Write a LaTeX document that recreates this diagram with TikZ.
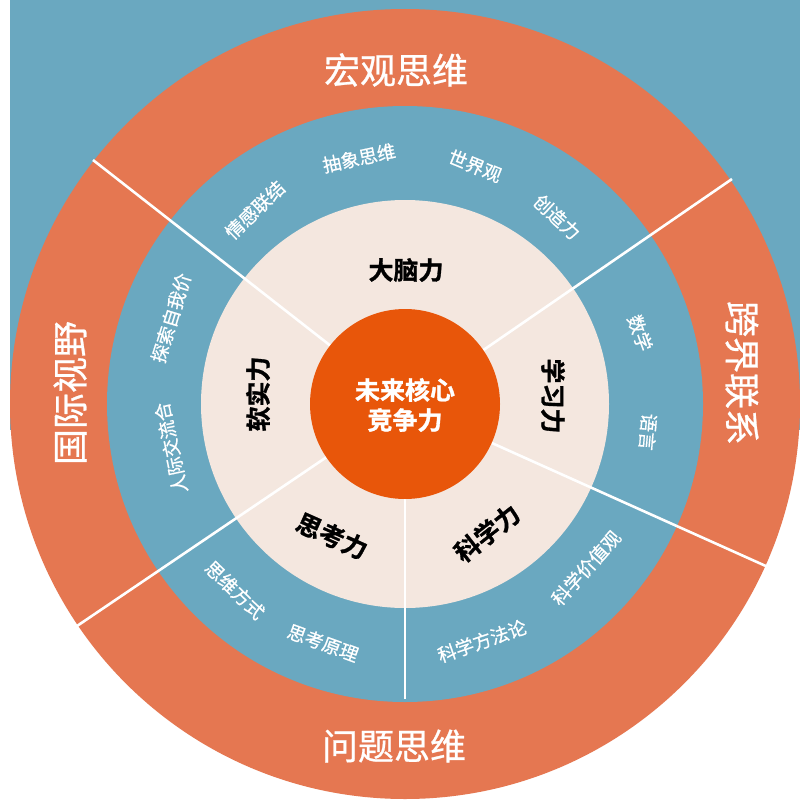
\documentclass[tikz,border=0pt]{standalone}
\usepackage{fontspec}
\setmainfont{Noto Sans CJK SC}[BoldFont={Noto Sans CJK SC Bold}]
\newfontfamily\medfont{Noto Sans CJK SC}[FakeBold=0.7]
\newfontfamily\heavyfont{Noto Sans CJK SC Bold}[FakeBold=1.2]
\definecolor{bgblue}{HTML}{6AA8C0}
\definecolor{ringorange}{HTML}{E57751}
\definecolor{coreorange}{HTML}{E8560A}
\definecolor{beige}{HTML}{F4E7DF}
\tikzset{
  outertext/.style={text=white, inner sep=0pt, font=\medfont\fontsize{36}{40}\selectfont},
  powertext/.style={text=black, inner sep=0pt, font=\heavyfont\fontsize{25}{28}\selectfont},
  skilltext/.style={text=white, inner sep=0pt, font=\medfont\fontsize{18.5}{20}\selectfont},
  coretext/.style={text=white, inner sep=0pt, align=center, font=\heavyfont\fontsize{25}{30}\selectfont},
  divider/.style={draw=white, line width=2.6pt}
}
\begin{document}
\begin{tikzpicture}[x=1pt,y=-1pt]
\useasboundingbox (0,0) rectangle (800,800);
\fill[white] (0,0) rectangle (800,800);
\fill[bgblue] (10,0) rectangle (800,430);
\coordinate (c) at (405,404);
% rings
\fill[ringorange] (c) circle (395pt);
\fill[bgblue] (c) circle (298pt);
\fill[beige] (c) circle (204pt);
% dividers
\coordinate (ul) at (93,160);
\coordinate (ur) at (732,179);
\coordinate (lr) at (768,567);
\coordinate (ll) at (77,626);
\coordinate (bt) at (405,699);
\draw[divider] (c) -- (ul);
\draw[divider] (c) -- (ur);
\draw[divider] (c) -- (lr);
\draw[divider] (c) -- (ll);
\draw[divider] (c) -- (bt);
% core
\fill[coreorange] (c) circle (95pt);
\node[coretext] (core) at (405,405) {未来核心\\竞争力};
% outer ring
\node[outertext] (o1) at (396,70) {宏观思维};
\node[outertext, rotate=-90] (o2) at (742,373) {跨界联系};
\node[outertext] (o3) at (394,746) {问题思维};
\node[outertext, rotate=90] (o4) at (70,393) {国际视野};
% beige ring
\node[powertext] (p1) at (406,270) {大脑力};
\node[powertext, rotate=-90] (p2) at (553,396) {学习力};
\node[powertext, rotate=90] (p3) at (258,394) {软实力};
\node[powertext, rotate=-24] (p4) at (332,536) {思考力};
\node[powertext, rotate=38] (p5) at (487,533) {科学力};
% blue ring
\node[skilltext, rotate=44] (s1) at (255,210) {情感联结};
\node[skilltext, rotate=12] (s2) at (359,158) {抽象思维};
\node[skilltext, rotate=-22] (s3) at (475,166) {世界观};
\node[skilltext, rotate=-43] (s4) at (557,217) {创造力};
\node[skilltext, rotate=-70] (s5) at (640,333) {数学};
\node[skilltext, rotate=-95] (s6) at (648,432) {语言};
\node[skilltext, rotate=73] (s7) at (171,318) {探索自我价};
\node[skilltext, rotate=102] (s8) at (171,448) {人际交流合};
\node[skilltext, rotate=-44] (s9) at (235,590) {思维方式};
\node[skilltext, rotate=-20] (s10) at (323,643) {思考原理};
\node[skilltext, rotate=19] (s11) at (482,641) {科学方法论};
\node[skilltext, rotate=48] (s12) at (586,568) {科学价值观};
\end{tikzpicture}
\end{document}
